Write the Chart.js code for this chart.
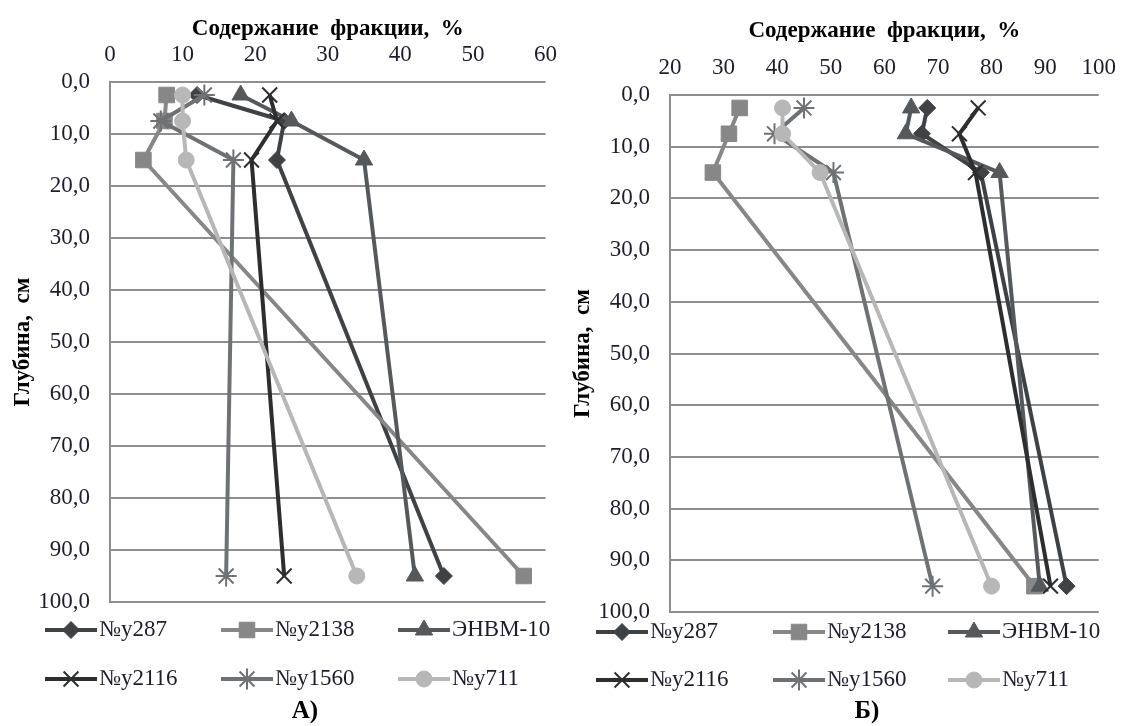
<!DOCTYPE html>
<html>
<head>
<meta charset="UTF-8">
<title>Содержание фракции</title>
<script src="https://cdn.jsdelivr.net/npm/chart.js"></script>
<style>
  body { margin: 0; background: #fff; }
  #wrap { position: relative; width: 1121px; height: 726px; overflow: hidden; }
  #wrap canvas { position: absolute; top: 0; }
</style>
</head>
<body>
<div id="wrap">
  <canvas id="chartA" width="570" height="726" style="left:0"></canvas>
  <canvas id="chartB" width="569" height="726" style="left:560px"></canvas>
</div>

<script>
// глубина отбора, см
const depths = [2.5, 7.5, 15, 95];
const seriesNames = ['№у287', '№у2138', 'ЭНВМ-10', '№у2116', '№у1560', '№у711'];

// А) содержание фракции, %
const a287   = [12, 24, 23, 46];
const a2138  = [7.8, 7.5, 4.6, 57];
const aEnvm  = [18, 25, 35, 42];
const a2116  = [22, 23, 19.5, 24];
const a1560  = [13, 7, 17, 16];
const a711   = [10, 10, 10.5, 34];

// Б) содержание фракции, %
const b287   = [68, 67, 78, 94];
const b2138  = [33, 31, 28, 88];
const bEnvm  = [65, 64, 81.5, 89];
const b2116  = [77.5, 74, 77, 91];
const b1560  = [45, 39.5, 50.5, 69];
const b711   = [41, 41, 48, 80];

// подписи осей
const xTicksA = [0, 10, 20, 30, 40, 50, 60];
const xTicksB = [20, 30, 40, 50, 60, 70, 80, 90, 100];
const depthTicks = [0, 10, 20, 30, 40, 50, 60, 70, 80, 90, 100];

// оформление серий
const colors  = ['#3f4245', '#878787', '#56595b', '#2c2e30', '#6f7274', '#b7b7b7'];
const markers = ['rectRot', 'rect', 'triangle', 'crossRot', 'star', 'circle'];
const radii   = [8.5, 11, 10, 10.5, 10.5, 8];

const serif = '"Liberation Serif", "DejaVu Serif", serif';
const textColor = '#1d1d2b';

function makeDatasets(values) {
    return values.map(function(vals, i) {
        const open = markers[i] === 'crossRot' || markers[i] === 'star';
        return {
            label: seriesNames[i],
            data: vals.map(function(v, k) { return {x: v, y: depths[k]}; }),
            showLine: true,
            borderColor: colors[i],
            backgroundColor: colors[i],
            borderWidth: 4,
            pointStyle: markers[i],
            pointRadius: radii[i],
            pointBackgroundColor: colors[i],
            pointBorderColor: colors[i],
            pointBorderWidth: open ? 2 : 1,
            order: 6 - i
        };
    });
}

// легенда в стиле Excel: линия с маркером
const lineLegend = {
    id: 'lineLegend',
    afterDraw(chart, args, opts) {
        const ctx = chart.ctx;
        ctx.save();
        chart.data.datasets.forEach(function(ds, i) {
            const x = opts.cols[i % 3];
            const y = opts.rows[Math.floor(i / 3)];
            ctx.strokeStyle = ds.borderColor;
            ctx.lineWidth = 4;
            ctx.beginPath();
            ctx.moveTo(x, y);
            ctx.lineTo(x + opts.lineLen, y);
            ctx.stroke();
            ctx.fillStyle = ds.pointBackgroundColor;
            ctx.strokeStyle = ds.pointBorderColor;
            ctx.lineWidth = ds.pointBorderWidth;
            Chart.helpers.drawPoint(ctx, {
                pointStyle: ds.pointStyle, radius: ds.pointRadius,
                rotation: 0, borderWidth: ds.pointBorderWidth
            }, x + opts.lineLen / 2, y);
            ctx.fillStyle = textColor;
            ctx.font = '23px ' + serif;
            ctx.textAlign = 'left';
            ctx.textBaseline = 'middle';
            ctx.fillText(ds.label, x + opts.lineLen + 2, y);
        });
        ctx.fillStyle = '#000';
        ctx.font = 'bold 25px ' + serif;
        ctx.textAlign = 'center';
        ctx.fillText(opts.caption, opts.capX, opts.capY);
        ctx.restore();
    }
};

function makeChart(id, values, xTicks, box) {
    return new Chart(document.getElementById(id), {
        type: 'scatter',
        data: { datasets: makeDatasets(values) },
        plugins: [lineLegend],
        options: {
            responsive: false,
            animation: false,
            layout: { padding: { left: 0, right: 0, top: 0, bottom: box.bottom } },
            plugins: {
                legend: { display: false },
                tooltip: { enabled: false },
                lineLegend: box.legend
            },
            scales: {
                x: {
                    type: 'linear',
                    position: 'top',
                    min: xTicks[0],
                    max: xTicks[xTicks.length - 1],
                    ticks: { stepSize: 10, padding: 13, color: textColor, font: { family: serif, size: 23 } },
                    grid: { display: false, drawTicks: false },
                    border: { display: false },
                    title: {
                        display: true,
                        text: 'Содержание  фракции,  %',
                        color: '#000',
                        font: { family: serif, size: 23, weight: 'bold' },
                        padding: { top: box.titleTop, bottom: 0 }
                    },
                    afterFit: function(scale) { scale.height = box.top; }
                },
                y: {
                    type: 'linear',
                    reverse: true,
                    min: depthTicks[0],
                    max: depthTicks[depthTicks.length - 1],
                    ticks: {
                        stepSize: 10, padding: 20, color: textColor,
                        font: { family: serif, size: 23 },
                        callback: function(v) { return v.toFixed(1).replace('.', ','); }
                    },
                    grid: { color: '#8e8e8e', lineWidth: 2, drawTicks: false },
                    border: { display: true, color: '#8e8e8e', width: 2 },
                    title: {
                        display: true,
                        text: 'Глубина,  см',
                        color: '#000',
                        font: { family: serif, size: 23, weight: 'bold' },
                        padding: { top: 9, bottom: 0 }
                    },
                    afterFit: function(scale) { scale.width = 110; }
                }
            }
        }
    });
}

makeChart('chartA', [a287, a2138, aEnvm, a2116, a1560, a711], xTicksA, {
    top: 82, bottom: 124, titleTop: 15,
    legend: { cols: [45, 221, 398], rows: [630, 679], lineLen: 52, caption: 'А)', capX: 305, capY: 712 }
});

makeChart('chartB', [b287, b2138, bEnvm, b2116, b1560, b711], xTicksB, {
    top: 95, bottom: 114, titleTop: 17,
    legend: { cols: [36, 213, 388], rows: [632, 680], lineLen: 52, caption: 'Б)', capX: 307, capY: 712 }
});
</script>
</body>
</html>
